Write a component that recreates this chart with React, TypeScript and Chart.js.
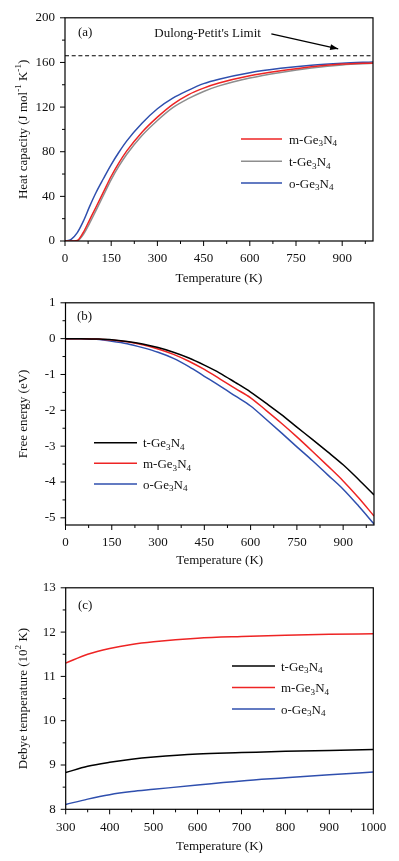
import React, { useEffect, useRef } from 'react';
import { Chart, registerables } from 'chart.js';
Chart.register(...registerables);

const FONT = '"Liberation Serif", "Times New Roman", serif';
const RED = '#ee2424';
const GRAY = '#8e8e8e';
const BLUE = '#2f4fae';
const BLACK = '#000000';

// ---------- Panel (a): heat capacity ----------
const cpTemps = [0, 20, 40, 60, 80, 100, 125, 150, 175, 200, 250, 300, 350, 400, 450, 500, 600, 700, 800, 900, 1000];
const cpM = [0, 0, 0.5, 8, 19, 30, 44, 58, 70, 80.5, 97.5, 111, 122.5, 131, 137, 141.5, 148, 152.5, 156.2, 158.5, 159.6];
const cpT = [0, 0, 0.3, 6, 16, 27, 41, 55, 67, 77.5, 94.5, 108, 119.5, 127.5, 134, 139, 146, 151, 155, 157.8, 159.2];
const cpO = [0, 1.5, 7.5, 18, 31, 43, 56, 68.5, 79.5, 89.5, 105.5, 118.5, 128, 135, 141, 145, 150.8, 154.7, 157.5, 159.3, 160.5];
const dulongPetit = 166;
const dulongText = "Dulong-Petit's Limit";

// ---------- Panel (b): free energy ----------
const feTemps = [0, 50, 100, 150, 200, 250, 300, 350, 400, 450, 500, 550, 600, 650, 700, 750, 800, 850, 900, 950, 1000];
const feT = [0, 0, -0.01, -0.03, -0.08, -0.15, -0.25, -0.38, -0.54, -0.74, -0.96, -1.22, -1.49, -1.8, -2.12, -2.47, -2.81, -3.16, -3.52, -3.93, -4.36];
const feM = [0, 0, -0.01, -0.04, -0.09, -0.17, -0.29, -0.44, -0.63, -0.86, -1.12, -1.39, -1.65, -2.0, -2.36, -2.74, -3.14, -3.55, -3.97, -4.44, -4.95];
const feO = [0, -0.005, -0.02, -0.07, -0.14, -0.25, -0.38, -0.55, -0.78, -1.05, -1.32, -1.6, -1.88, -2.25, -2.63, -3.02, -3.4, -3.8, -4.2, -4.67, -5.17];

// ---------- Panel (c): Debye temperature (10^2 K) ----------
const dtTemps = [300, 350, 400, 450, 500, 600, 700, 800, 900, 1000];
const dtT = [8.83, 8.97, 9.06, 9.13, 9.18, 9.25, 9.28, 9.31, 9.33, 9.35];
const dtM = [11.3, 11.5, 11.63, 11.72, 11.78, 11.86, 11.9, 11.93, 11.95, 11.96];
const dtO = [8.11, 8.23, 8.33, 8.4, 8.45, 8.55, 8.64, 8.71, 8.78, 8.84];

const X_TITLE = 'Temperature (K)';

type Seg = { t: string; s?: number };
const phase = (p: string): Seg[] => [{ t: p + '-Ge' }, { t: '3', s: -1 }, { t: 'N' }, { t: '4', s: -1 }];

function pts(xs: number[], ys: number[]) {
  return xs.map((x, i) => ({ x, y: ys[i] }));
}

function drawRich(ctx: CanvasRenderingContext2D, segs: Seg[], x: number, y: number, size: number, align: 'left' | 'center') {
  const small = size * 0.7;
  const widths = segs.map((sg) => {
    ctx.font = `${sg.s ? small : size}px ${FONT}`;
    return ctx.measureText(sg.t).width;
  });
  const total = widths.reduce((a, b) => a + b, 0);
  let cx = align === 'center' ? x - total / 2 : x;
  ctx.textBaseline = 'alphabetic';
  ctx.textAlign = 'left';
  segs.forEach((sg, i) => {
    ctx.font = `${sg.s ? small : size}px ${FONT}`;
    const dy = sg.s === 1 ? -size * 0.4 : sg.s === -1 ? size * 0.22 : 0;
    ctx.fillText(sg.t, cx, y + dy);
    cx += widths[i];
  });
}

type PanelCfg = {
  key: string;
  top: number;
  height: number;
  padTop: number;
  padRight: number;
  yW: number;
  xH: number;
  xMin: number; xMax: number; xMajor: number; xMinor: number;
  yMin: number; yMax: number; yMajor: number; yMinor: number;
  datasets: { label: string; data: { x: number; y: number }[]; color: string }[];
  yTitle: Seg[];
  xTitleY: number;
  panel: string;
  panelPos: [number, number];
  legend: { x0: number; x1: number; xt: number; ys: number[]; items: { seg: Seg[]; color: string }[] };
  extra?: (chart: any, ctx: CanvasRenderingContext2D) => void;
};

const panels: PanelCfg[] = [
  {
    key: 'a', top: 0, height: 285, padTop: 14, padRight: 26, yW: 65, xH: 44,
    xMin: 0, xMax: 1000, xMajor: 150, xMinor: 75,
    yMin: 0, yMax: 200, yMajor: 40, yMinor: 20,
    datasets: [
      { label: 'm-Ge3N4', data: pts(cpTemps, cpM), color: RED },
      { label: 't-Ge3N4', data: pts(cpTemps, cpT), color: GRAY },
      { label: 'o-Ge3N4', data: pts(cpTemps, cpO), color: BLUE },
    ],
    yTitle: [{ t: 'Heat capacity (J mol' }, { t: '-1', s: 1 }, { t: ' K' }, { t: '-1', s: 1 }, { t: ')' }],
    xTitleY: 277,
    panel: '(a)', panelPos: [78, 31],
    legend: {
      x0: 241, x1: 282, xt: 289, ys: [139, 161.3, 183],
      items: [{ seg: phase('m'), color: RED }, { seg: phase('t'), color: GRAY }, { seg: phase('o'), color: BLUE }],
    },
    extra: (chart, ctx) => {
      const xs = chart.scales.x, ys = chart.scales.y;
      const { left, right } = chart.chartArea;
      const yy = ys.getPixelForValue(dulongPetit);
      ctx.save();
      ctx.strokeStyle = '#000';
      ctx.lineWidth = 1.2;
      ctx.setLineDash([4, 2.7]);
      ctx.beginPath();
      ctx.moveTo(left, yy);
      ctx.lineTo(right, yy);
      ctx.stroke();
      ctx.setLineDash([]);
      // label
      ctx.fillStyle = '#111';
      drawRich(ctx, [{ t: dulongText }], xs.getPixelForValue(463), ys.getPixelForValue(186.8) + 4.3, 13, 'center');
      // arrow
      const x1 = xs.getPixelForValue(670), y1 = ys.getPixelForValue(185.5);
      const x2 = xs.getPixelForValue(887), y2 = ys.getPixelForValue(172.2);
      ctx.lineWidth = 1.3;
      ctx.beginPath();
      ctx.moveTo(x1, y1);
      ctx.lineTo(x2, y2);
      ctx.stroke();
      const ang = Math.atan2(y2 - y1, x2 - x1);
      const L = 8, W = 3;
      ctx.beginPath();
      ctx.moveTo(x2, y2);
      ctx.lineTo(x2 - L * Math.cos(ang) + W * Math.sin(ang), y2 - L * Math.sin(ang) - W * Math.cos(ang));
      ctx.lineTo(x2 - L * Math.cos(ang) - W * Math.sin(ang), y2 - L * Math.sin(ang) + W * Math.cos(ang));
      ctx.closePath();
      ctx.fillStyle = '#000';
      ctx.fill();
      ctx.restore();
    },
  },
  {
    key: 'b', top: 285, height: 285, padTop: 11.7, padRight: 25, yW: 65.5, xH: 45,
    xMin: 0, xMax: 1000, xMajor: 150, xMinor: 75,
    yMin: -5.2, yMax: 1, yMajor: 1, yMinor: 0.5,
    datasets: [
      { label: 't-Ge3N4', data: pts(feTemps, feT), color: BLACK },
      { label: 'm-Ge3N4', data: pts(feTemps, feM), color: RED },
      { label: 'o-Ge3N4', data: pts(feTemps, feO), color: BLUE },
    ],
    yTitle: [{ t: 'Free energy (eV)' }],
    xTitleY: 274,
    panel: '(b)', panelPos: [77, 30],
    legend: {
      x0: 94, x1: 137, xt: 143, ys: [157.7, 178.3, 199],
      items: [{ seg: phase('t'), color: BLACK }, { seg: phase('m'), color: RED }, { seg: phase('o'), color: BLUE }],
    },
  },
  {
    key: 'c', top: 570, height: 291, padTop: 12.3, padRight: 25.7, yW: 65.7, xH: 51.7,
    xMin: 300, xMax: 1000, xMajor: 100, xMinor: 50,
    yMin: 8, yMax: 13, yMajor: 1, yMinor: 0.5,
    datasets: [
      { label: 't-Ge3N4', data: pts(dtTemps, dtT), color: BLACK },
      { label: 'm-Ge3N4', data: pts(dtTemps, dtM), color: RED },
      { label: 'o-Ge3N4', data: pts(dtTemps, dtO), color: BLUE },
    ],
    yTitle: [{ t: 'Debye temperature (10' }, { t: '2', s: 1 }, { t: ' K)' }],
    xTitleY: 275,
    panel: '(c)', panelPos: [78, 34],
    legend: {
      x0: 232, x1: 275, xt: 281, ys: [96, 117.5, 139],
      items: [{ seg: phase('t'), color: BLACK }, { seg: phase('m'), color: RED }, { seg: phase('o'), color: BLUE }],
    },
  },
];

function makeDeco(p: PanelCfg) {
  return {
    id: 'deco' + p.key,
    afterDraw(chart: any) {
      const ctx: CanvasRenderingContext2D = chart.ctx;
      const { left, right, top, bottom } = chart.chartArea;
      const xs = chart.scales.x, ys = chart.scales.y;
      ctx.save();
      if (p.extra) p.extra(chart, ctx);
      // frame
      ctx.strokeStyle = '#000';
      ctx.lineWidth = 1.2;
      ctx.strokeRect(left, top, right - left, bottom - top);
      // ticks (outward, major & minor)
      ctx.lineWidth = 1;
      ctx.beginPath();
      const isMaj = (v: number, m: number) => Math.abs(v / m - Math.round(v / m)) < 1e-6;
      let start = Math.ceil(p.xMin / p.xMinor - 1e-9) * p.xMinor;
      for (let k = 0; start + k * p.xMinor <= p.xMax + 1e-9; k++) {
        const v = start + k * p.xMinor;
        const px = xs.getPixelForValue(v);
        const len = isMaj(v, p.xMajor) ? 5 : 3;
        ctx.moveTo(px, bottom);
        ctx.lineTo(px, bottom + len);
      }
      start = Math.ceil(p.yMin / p.yMinor - 1e-9) * p.yMinor;
      for (let k = 0; start + k * p.yMinor <= p.yMax + 1e-9; k++) {
        const v = start + k * p.yMinor;
        const py = ys.getPixelForValue(v);
        const len = isMaj(v, p.yMajor) ? 5 : 3;
        ctx.moveTo(left, py);
        ctx.lineTo(left - len, py);
      }
      ctx.stroke();
      // legend
      p.legend.items.forEach((it, i) => {
        const y = p.legend.ys[i];
        ctx.strokeStyle = it.color;
        ctx.lineWidth = 1.5;
        ctx.beginPath();
        ctx.moveTo(p.legend.x0, y);
        ctx.lineTo(p.legend.x1, y);
        ctx.stroke();
        ctx.fillStyle = '#111';
        drawRich(ctx, it.seg, p.legend.xt, y + 4.5, 13, 'left');
      });
      // panel label
      ctx.fillStyle = '#111';
      drawRich(ctx, [{ t: p.panel }], p.panelPos[0], p.panelPos[1] + 4.5, 13, 'left');
      // x title
      drawRich(ctx, [{ t: X_TITLE }], (left + right) / 2, p.xTitleY + 4.5, 13, 'center');
      // y title
      ctx.save();
      ctx.translate(22, (top + bottom) / 2);
      ctx.rotate(-Math.PI / 2);
      drawRich(ctx, p.yTitle, 0, 4.5, 13, 'center');
      ctx.restore();
      ctx.restore();
    },
  };
}

const fmt = (v: any) => String(Math.round(Number(v) * 1000) / 1000);

function buildConfig(p: PanelCfg): any {
  return {
    type: 'line',
    data: {
      datasets: p.datasets.map((d) => ({
        label: d.label,
        data: d.data,
        borderColor: d.color,
        backgroundColor: d.color,
        borderWidth: 1.5,
        pointRadius: 0,
        fill: false,
        cubicInterpolationMode: 'monotone',
      })),
    },
    options: {
      responsive: false,
      animation: false,
      devicePixelRatio: 1,
      layout: { padding: { top: p.padTop, right: p.padRight, left: 0, bottom: 0 } },
      plugins: { legend: { display: false }, tooltip: { enabled: false }, title: { display: false } },
      scales: {
        x: {
          type: 'linear',
          min: p.xMin,
          max: p.xMax,
          grid: { display: false, drawTicks: false },
          border: { display: false },
          ticks: {
            stepSize: p.xMajor,
            includeBounds: false,
            autoSkip: false,
            maxRotation: 0,
            padding: 10,
            color: '#111',
            font: { family: FONT, size: 13 },
            callback: fmt,
          },
          afterFit: (s: any) => { s.height = p.xH; },
        },
        y: {
          type: 'linear',
          min: p.yMin,
          max: p.yMax,
          grid: { display: false, drawTicks: false },
          border: { display: false },
          ticks: {
            stepSize: p.yMajor,
            includeBounds: false,
            autoSkip: false,
            padding: 10,
            color: '#111',
            font: { family: FONT, size: 13 },
            callback: fmt,
          },
          afterFit: (s: any) => { s.width = p.yW; },
        },
      },
    },
    plugins: [makeDeco(p)],
  };
}

function Panel({ cfg }: { cfg: PanelCfg }) {
  const ref = useRef<HTMLCanvasElement>(null);
  useEffect(() => {
    const chart = new Chart(ref.current as HTMLCanvasElement, buildConfig(cfg));
    return () => chart.destroy();
  }, [cfg]);
  return (
    <canvas
      ref={ref}
      width={399}
      height={cfg.height}
      style={{ position: 'absolute', left: 0, top: cfg.top, width: 399, height: cfg.height }}
    />
  );
}

export default function App() {
  return (
    <div style={{ position: 'absolute', left: 0, top: 0, width: 399, height: 861, background: '#fff' }}>
      {panels.map((p) => (
        <Panel key={p.key} cfg={p} />
      ))}
    </div>
  );
}
